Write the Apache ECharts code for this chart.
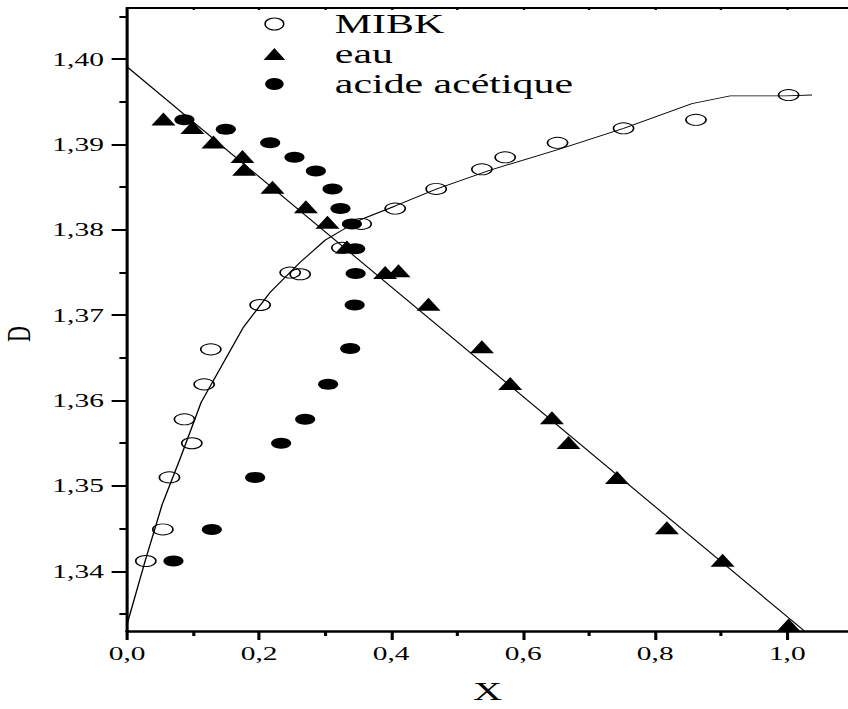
<!DOCTYPE html>
<html>
<head>
<meta charset="utf-8">
<script src="https://cdn.jsdelivr.net/npm/echarts@6/dist/echarts.min.js"></script>
<style>
  html, body { margin: 0; padding: 0; background: #fff; overflow: hidden; }
  /* the reference is stretched sideways, so the chart is drawn narrow and widened */
  #chart { width: 547px; height: 709px; transform: scaleX(1.5503); transform-origin: 0 0; }
</style>
</head>
<body>
<div id="chart"></div>
<script>
// ticks
const xMajorTicks = [0, 0.2, 0.4, 0.6, 0.8, 1.0];
const xMinorTicks = [0.1, 0.3, 0.5, 0.7, 0.9];
const xTopTicks = [0.1, 0.2, 0.3, 0.4, 0.5, 0.6, 0.7, 0.8, 0.9, 1.0];
const yMajorTicks = [1.34, 1.35, 1.36, 1.37, 1.38, 1.39, 1.40];
const yMinorTicks = [1.335, 1.345, 1.355, 1.365, 1.375, 1.385, 1.395, 1.405];

// measured points [X, D]
const mibkPoints = [
  [0.0283, 1.3412], [0.0541, 1.3449], [0.0641, 1.3510], [0.0980, 1.3550],
  [0.0868, 1.3578], [0.1167, 1.3619], [0.1268, 1.3660], [0.2015, 1.3712],
  [0.2470, 1.3750], [0.2621, 1.3748], [0.3253, 1.3779], [0.3545, 1.3807],
  [0.4061, 1.3825], [0.4682, 1.3848], [0.5374, 1.3871], [0.5727, 1.3885],
  [0.6520, 1.3902], [0.7520, 1.3919], [0.8617, 1.3929], [1.0020, 1.3958]
];
const eauPoints = [
  [0.0550, 1.3930], [0.0989, 1.3920], [0.1308, 1.3903], [0.1747, 1.3886],
  [0.1773, 1.3871], [0.2202, 1.3850], [0.2708, 1.3827], [0.3035, 1.3809],
  [0.3329, 1.3780], [0.3909, 1.3750], [0.4111, 1.3752], [0.4565, 1.3713],
  [0.5374, 1.3663], [0.5803, 1.3620], [0.6435, 1.3580], [0.6686, 1.3551],
  [0.7420, 1.3510], [0.8177, 1.3451], [0.9020, 1.3413], [1.0020, 1.3337]
];
const acidePoints = [
  [0.0868, 1.3929], [0.1495, 1.3918], [0.2167, 1.3902], [0.2535, 1.3885],
  [0.2859, 1.3869], [0.3111, 1.3848], [0.3232, 1.3825], [0.3405, 1.3807],
  [0.3455, 1.3778], [0.3462, 1.3749], [0.3447, 1.3712], [0.3379, 1.3661],
  [0.3045, 1.3619], [0.2697, 1.3578], [0.2333, 1.3550], [0.1939, 1.3510],
  [0.1283, 1.3449], [0.0702, 1.3412]
];

// drawn curves
const mibkCurve = [
  [0, 1.3338], [0.0273, 1.3412], [0.0530, 1.3478], [0.0803, 1.3532],
  [0.1121, 1.3598], [0.1470, 1.3646], [0.1762, 1.3686], [0.2167, 1.3727],
  [0.2621, 1.3762], [0.3000, 1.3788], [0.3505, 1.3811], [0.4061, 1.3828],
  [0.4692, 1.3848], [0.5500, 1.3870], [0.6561, 1.3895], [0.7520, 1.3919],
  [0.8556, 1.3948], [0.9136, 1.3957], [0.9970, 1.3957], [1.0374, 1.3958]
];
const eauLine = [[0, 1.3991], [1.026, 1.3330]];

const serif = '"Liberation Serif", "Times New Roman", serif';
const fmtX = v => v.toFixed(1).replace('.', ',');
const fmtY = v => v.toFixed(2).replace('.', ',');

const chart = echarts.init(document.getElementById('chart'), null, { renderer: 'svg' });

const option = {
  backgroundColor: '#fff',
  animation: false,
  grid: { left: 82, top: 8, right: 0, bottom: 78, outerBoundsMode: 'none', containLabel: false },
  legend: {
    orient: 'vertical',
    left: 165,
    top: 4,
    itemWidth: 14,
    itemHeight: 12,
    itemGap: 0,
    symbolKeepAspect: false,
    selectedMode: false,
    textStyle: { fontFamily: serif, fontSize: 27, color: '#000', lineHeight: 30, padding: [0, 0, 0, 27] },
    data: [
      { name: 'MIBK', itemStyle: { color: 'rgba(0,0,0,0)', borderColor: '#000', borderWidth: 1, opacity: 1 } },
      { name: 'eau', itemStyle: { color: '#000', opacity: 1 } },
      { name: 'acide acétique', itemStyle: { color: '#000', opacity: 1 } }
    ]
  },
  xAxis: [
    {
      type: 'value', min: 0, max: 1.092, position: 'bottom',
      name: 'X', nameLocation: 'middle', nameGap: 47,
      nameTextStyle: { fontFamily: serif, fontSize: 26, color: '#000' },
      axisLine: { lineStyle: { color: '#000', width: 2.5 } },
      axisTick: { customValues: xMajorTicks, length: 9, lineStyle: { color: '#000', width: 2 } },
      axisLabel: { customValues: xMajorTicks, formatter: fmtX, margin: 13, fontFamily: serif, fontSize: 19, color: '#000' },
      splitLine: { show: false }
    },
    {
      type: 'value', min: 0, max: 1.092, position: 'bottom',
      axisLine: { show: false },
      axisTick: { customValues: xMinorTicks, length: 5, lineStyle: { color: '#000', width: 2 } },
      axisLabel: { show: false },
      splitLine: { show: false }
    },
    {
      type: 'value', min: 0, max: 1.092, position: 'top',
      axisLine: { lineStyle: { color: '#000', width: 2 } },
      axisTick: { customValues: xTopTicks, inside: true, length: 2, lineStyle: { color: '#000', width: 1.5 } },
      axisLabel: { show: false },
      splitLine: { show: false }
    }
  ],
  yAxis: [
    {
      type: 'value', min: 1.333, max: 1.406, position: 'left',
      name: 'D', nameLocation: 'middle', nameGap: 56,
      nameTextStyle: { fontFamily: serif, fontSize: 22, color: '#000', padding: [0, 29, 0, 0] },
      axisLine: { lineStyle: { color: '#000', width: 2 } },
      axisTick: { customValues: yMajorTicks, length: 10, lineStyle: { color: '#000', width: 2 } },
      axisLabel: { customValues: yMajorTicks, formatter: fmtY, margin: 15, fontFamily: serif, fontSize: 19, color: '#000' },
      splitLine: { show: false }
    },
    {
      type: 'value', min: 1.333, max: 1.406, position: 'left',
      axisLine: { show: false },
      axisTick: { customValues: yMinorTicks, length: 5, lineStyle: { color: '#000', width: 2 } },
      axisLabel: { show: false },
      splitLine: { show: false }
    }
  ],
  series: [
    {
      name: 'MIBK fit', type: 'line', data: mibkCurve, symbol: 'none', z: 3,
      lineStyle: { color: '#000', width: 0.9 }
    },
    {
      name: 'eau fit', type: 'line', data: eauLine, symbol: 'none', z: 3,
      lineStyle: { color: '#000', width: 0.9 }
    },
    {
      name: 'MIBK', type: 'scatter', data: mibkPoints, symbol: 'circle', symbolSize: [13, 11], z: 2,
      itemStyle: { color: 'rgba(0,0,0,0)', borderColor: '#000', borderWidth: 1, opacity: 1 }
    },
    {
      name: 'eau', type: 'scatter', data: eauPoints, symbol: 'triangle', symbolSize: [15.5, 13], z: 4,
      itemStyle: { color: '#000', opacity: 1 }
    },
    {
      name: 'acide acétique', type: 'scatter', data: acidePoints, symbol: 'circle', symbolSize: [13, 11], z: 4,
      itemStyle: { color: '#000', opacity: 1 }
    }
  ]
};

chart.setOption(option);
</script>
</body>
</html>
